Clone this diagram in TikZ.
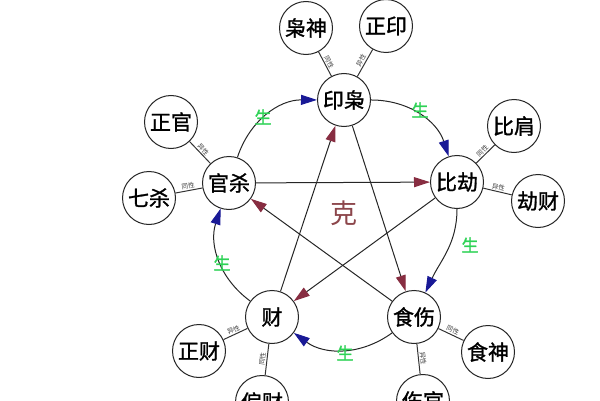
\documentclass[tikz,border=0pt]{standalone}
\usepackage{fontspec}
\setmainfont{Noto Sans CJK SC}
\newfontfamily\nodefont{Noto Sans CJK SC}[FakeBold=1.3]
\usetikzlibrary{arrows.meta}
\definecolor{sheng}{RGB}{25,25,150}
\definecolor{ke}{RGB}{135,45,65}
\definecolor{kechar}{RGB}{140,70,75}
\definecolor{shengtxt}{RGB}{45,210,85}
\begin{document}
\begin{tikzpicture}[x=1pt,y=1pt,
  gnode/.style={circle,draw=black!85,line width=1pt,minimum size=53pt,inner sep=0pt,font=\nodefont\fontsize{21}{21}\selectfont,fill=white},
  link/.style={draw=black!80,line width=1pt},
  lbl/.style={font=\fontsize{6.5}{6.5}\selectfont,sloped,above,inner sep=1pt,text=black!75},
  shengarr/.style={line width=1pt,draw=black!85,-{Triangle[length=16pt,width=10pt,color=sheng]}},
  kearr/.style={line width=1pt,draw=black!85,-{Triangle[length=16pt,width=10pt,color=ke]}},
  shengl/.style={text=shengtxt,font=\nodefont\fontsize{17}{17}\selectfont,inner sep=0pt},
]
\useasboundingbox (0,0) rectangle (600,400);
% main nodes
\node[gnode] (yx) at (344,300) {印枭};
\node[gnode] (bj) at (457,218) {比劫};
\node[gnode] (ss) at (414,83) {食伤};
\node[gnode] (cai) at (272,83) {财};
\node[gnode] (gs) at (229,217) {官杀};
% outer nodes
\node[gnode] (xs) at (306,372) {枭神};
\node[gnode] (zy) at (386,374) {正印};
\node[gnode] (bjian) at (514,274) {比肩};
\node[gnode] (jc) at (538,199) {劫财};
\node[gnode] (zg) at (171,278) {正官};
\node[gnode] (qs) at (149,202) {七杀};
\node[gnode] (zc) at (199,49) {正财};
\node[gnode] (pc) at (262,-2) {偏财};
\node[gnode] (sg) at (423,-1) {伤官};
\node[gnode] (sh) at (488,48) {食神};
% links
\draw[link] (yx) -- node[lbl]{同性} (xs);
\draw[link] (yx) -- node[lbl]{异性} (zy);
\draw[link] (bj) -- node[lbl]{同性} (bjian);
\draw[link] (bj) -- node[lbl]{异性} (jc);
\draw[link] (gs) -- node[lbl]{异性} (zg);
\draw[link] (gs) -- node[lbl]{同性} (qs);
\draw[link] (cai) -- node[lbl]{异性} (zc);
\draw[link] (cai) -- node[lbl]{同性} (pc);
\draw[link] (ss) -- node[lbl]{同性} (sh);
\draw[link] (ss) -- node[lbl]{异性} (sg);
% sheng cycle
\draw[shengarr] (gs) to[bend left=36] (yx);
\draw[shengarr] (yx) to[bend left=36] (bj);
\draw[shengarr] (bj) to[out=-90,in=65] (ss);
\draw[shengarr] (ss) to[bend left=36] (cai);
\draw[shengarr] (cai) to[bend left=36] (gs);
% ke star
\draw[kearr] (gs) -- (bj);
\draw[kearr] (bj) -- (cai);
\draw[kearr] (cai) -- (yx);
\draw[kearr] (yx) -- (ss);
\draw[kearr] (ss) -- (gs);
% labels
\node[text=kechar,font=\fontsize{27}{27}\selectfont] (ke) at (344,187) {克};
\node[shengl] (s1) at (263,283) {生};
\node[shengl] (s2) at (420,290) {生};
\node[shengl] (s3) at (470,155) {生};
\node[shengl] (s4) at (222,137) {生};
\node[shengl] (s5) at (345,47) {生};
\end{tikzpicture}
\end{document}
